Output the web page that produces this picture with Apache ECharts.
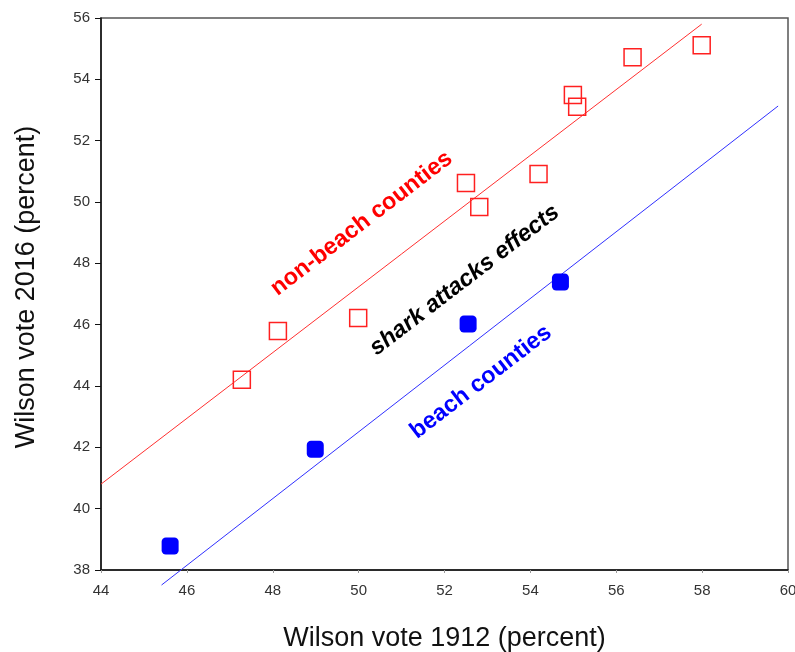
<!DOCTYPE html>
<html>
<head>
<meta charset="utf-8">
<script src="https://cdn.jsdelivr.net/npm/echarts@6/dist/echarts.min.js"></script>
<style>
  html, body { margin: 0; padding: 0; background: #fff; overflow: hidden; }
  #chart { width: 795px; height: 652px; }
</style>
</head>
<body>
<div id="chart"></div>
<script>
// Non-beach counties: [Wilson 1912 %, Wilson 2016 %]
const nonBeachX = [47.28, 48.12, 49.99, 52.50, 52.81, 54.19, 54.99, 55.09, 56.38, 57.99];
const nonBeachY = [44.20, 45.79, 46.22, 50.62, 49.84, 50.91, 53.49, 53.11, 54.72, 55.11];

// Beach counties
const beachX = [45.61, 48.99, 52.55, 54.70];
const beachY = [38.78, 41.94, 46.02, 47.39];

// Fitted parallel lines (end points)
const nonBeachFitX = [44.0, 57.99];
const nonBeachFitY = [40.80, 55.80];
const beachFitX = [45.41, 59.77];
const beachFitY = [37.51, 53.13];

// Axis ranges and ticks
const xMin = 44, xMax = 60, xStep = 2;
const yMin = 38, yMax = 56, yStep = 2;

// Annotation labels, anchored in data coordinates
const notes = [
  { text: 'non-beach counties', x: 50.07, y: 49.30, color: '#ff0000', italic: false },
  { text: 'shark attacks effects', x: 52.47, y: 47.45, color: '#000000', italic: true },
  { text: 'beach counties', x: 52.85, y: 44.13, color: '#0000ff', italic: false }
];

const zip = (xs, ys) => xs.map((v, i) => [v, ys[i]]);

const chart = echarts.init(document.getElementById('chart'));
const FONT = '"Liberation Sans", Arial, sans-serif';

chart.setOption({
  animation: false,
  grid: {
    left: 101, top: 18, right: 7, bottom: 82,
    outerBoundsMode: 'none', containLabel: false,
    show: true, borderColor: '#555', borderWidth: 1.5,
    backgroundColor: '#fff'
  },
  xAxis: {
    type: 'value', min: xMin, max: xMax, interval: xStep,
    name: 'Wilson vote 1912 (percent)', nameLocation: 'middle', nameGap: 55,
    nameTextStyle: { fontFamily: FONT, fontSize: 27, color: '#111' },
    axisLine: { show: true, lineStyle: { color: '#111', width: 1.5 } },
    axisTick: { show: true, length: 3, lineStyle: { color: '#999', width: 1 } },
    axisLabel: { fontFamily: FONT, fontSize: 15, color: '#333', margin: 13 },
    splitLine: { show: false }
  },
  yAxis: {
    type: 'value', min: yMin, max: yMax, interval: yStep,
    name: 'Wilson vote 2016 (percent)', nameLocation: 'middle', nameGap: 61,
    nameTextStyle: { fontFamily: FONT, fontSize: 27, color: '#111', padding: [0, 0, 0, 14] },
    axisLine: { show: true, lineStyle: { color: '#111', width: 1.5 } },
    axisTick: { show: true, length: 6, lineStyle: { color: '#111', width: 1 } },
    axisLabel: { fontFamily: FONT, fontSize: 15, color: '#333', margin: 11 },
    splitLine: { show: false }
  },
  series: [
    {
      type: 'line', data: zip(nonBeachFitX, nonBeachFitY), symbol: 'none',
      clip: false, lineStyle: { color: '#ff3030', width: 1 }, z: 2
    },
    {
      type: 'line', data: zip(beachFitX, beachFitY), symbol: 'none',
      clip: false, lineStyle: { color: '#3030ff', width: 1 }, z: 2
    },
    {
      type: 'scatter', data: zip(nonBeachX, nonBeachY), symbol: 'rect', symbolSize: 17,
      itemStyle: { color: 'rgba(255,255,255,0)', borderColor: '#ff2020', borderWidth: 1.5, opacity: 1 }, z: 3
    },
    {
      type: 'scatter', data: zip(beachX, beachY), symbol: 'roundRect', symbolSize: 17,
      itemStyle: { color: '#0000ff', opacity: 1 }, z: 3
    }
  ]
});

// Rotated text annotations placed through the chart's own coordinate system
const angle = 37.5 * Math.PI / 180;
chart.setOption({
  graphic: notes.map(n => {
    const p = chart.convertToPixel({ gridIndex: 0 }, [n.x, n.y]);
    return {
      type: 'text', x: p[0], y: p[1], rotation: angle, z: 10,
      style: {
        text: n.text, fill: n.color,
        font: (n.italic ? 'italic ' : '') + 'bold 23.5px ' + FONT,
        textAlign: 'center', textVerticalAlign: 'middle'
      }
    };
  })
});
</script>
</body>
</html>
